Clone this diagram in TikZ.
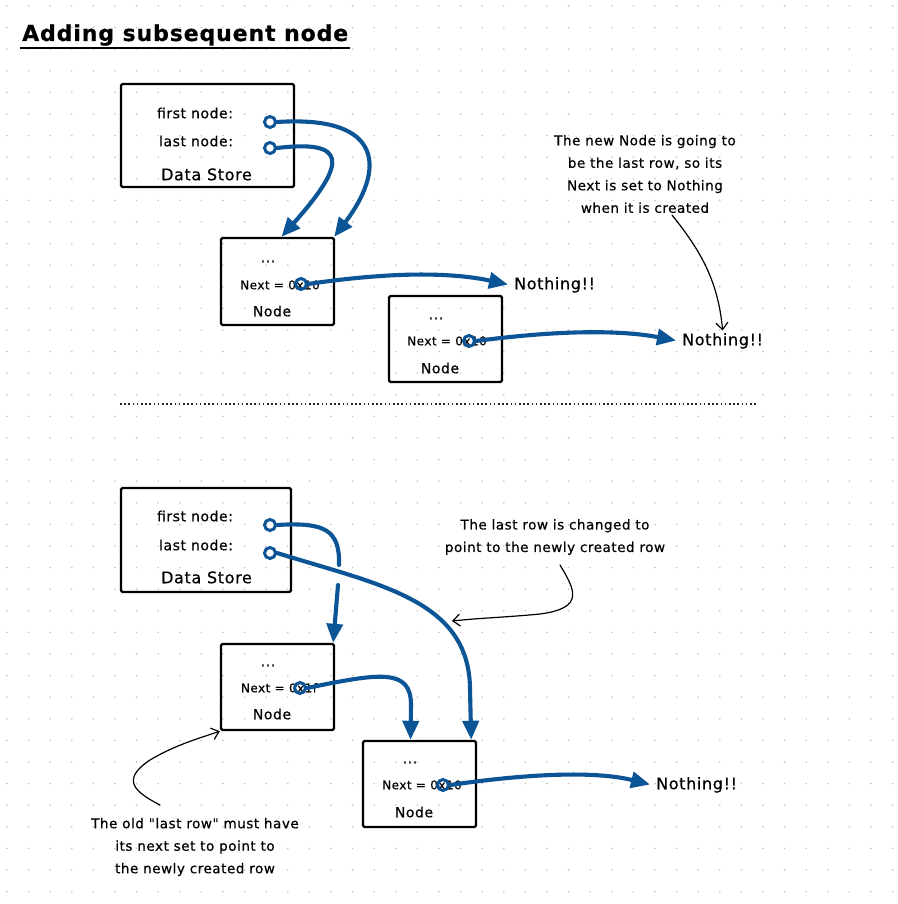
\documentclass[tikz,border=0pt]{standalone}
\usepackage{fontspec}
\setmainfont{DejaVu Sans}[LetterSpace=4, Ligatures=TeXOff, FakeBold=0.5]
\usetikzlibrary{arrows.meta}
\definecolor{arrowblue}{RGB}{11,84,150}
\definecolor{dotgray}{RGB}{195,195,195}
\begin{document}
\begin{tikzpicture}[x=1pt,y=-1pt,
  sbox/.style={draw=black, line width=2.4pt, rounded corners=1.5pt, inner sep=0pt},
  txt/.style={inner sep=0pt, text height=0.75em, text depth=0.2em, yshift=-3.5pt},
  small/.style={txt, font=\fontsize{14}{16}\selectfont},
  tiny/.style={txt, font=\fontsize{12}{14}\selectfont},
  big/.style={txt, font=\fontsize{16}{18}\selectfont},
  port/.style={circle, draw=arrowblue, line width=3pt, minimum size=11pt, inner sep=0pt},
  bluepath/.style={draw=arrowblue, line width=4.1pt, line cap=round},
  link/.style={bluepath, -{Triangle[length=19pt,width=16pt]}},
  note/.style={draw=black, line width=1.2pt, line cap=round, -{Straight Barb[length=7pt,width=12pt]}},
  annot/.style={align=center, inner sep=0pt, font=\fontsize{13.5}{22.5}\selectfont}]

\useasboundingbox[fill=white] (0,0) rectangle (897,904);
\foreach \i in {0,...,41} {
  \foreach \j in {0,...,41} {
    \fill[dotgray] (7+21.6*\i, 6+21.6*\j) circle (0.9pt);
  }
}

% title
\node[anchor=base west, inner sep=0pt, font=\fontsize{22}{24}\selectfont\bfseries] (title) at (22,41) {Adding subsequent node};
\draw[line width=2.4pt] ([xshift=-2pt,yshift=-7pt]title.base west) -- ([xshift=2pt,yshift=-7pt]title.base east);

% ---------- top half ----------
\node[sbox, minimum width=173pt, minimum height=103pt] (ds1) at (207.5,135.5) {};
\node[small] (ds1first) at (195,112) {first node:};
\node[small] (ds1last) at (196,140) {last node:};
\node[big] (ds1name) at (206.5,174) {Data Store};
\node[port] (p1a) at (270,122) {};
\node[port] (p1b) at (270,148) {};

\node[sbox, minimum width=113pt, minimum height=87pt] (n1) at (277.5,281.5) {};
\node[small] (n1dots) at (268,256) {...};
\node[tiny] (n1next) at (280,283) {Next = 0x10};
\node[small] (n1name) at (272,310) {Node};
\node[port] (n1p) at (301,284) {};

\node[sbox, minimum width=113pt, minimum height=86pt] (n2) at (445.5,339) {};
\node[small] (n2dots) at (436,313) {...};
\node[tiny] (n2next) at (447,339) {Next = 0x10};
\node[small] (n2name) at (440,367) {Node};
\node[port] (n2p) at (469,341) {};

\node[big, anchor=west] (nothing1) at (514,283) {Nothing!!};
\node[big, anchor=west] (nothing2) at (682,339) {Nothing!!};

\draw[link] (p1a.east) .. controls (385,115) and (385,170) .. ([xshift=-1pt]n1.north east);
\draw[link] (p1b.east) .. controls (345,140) and (350,160) .. ([xshift=4pt]n1.north);
\draw[link] (n1p.east) .. controls (390,272) and (450,272) .. ([xshift=-6pt,yshift=2pt]nothing1.west);
\draw[link] (n2p.east) .. controls (560,330) and (620,330) .. ([xshift=-6pt,yshift=2pt]nothing2.west);

\node[annot] (anno1) at (645,174) {The new Node is going to\\be the last row, so its\\Next is set to Nothing\\when it is created};
\coordinate (a1s) at (672,215);
\draw[note] (a1s) .. controls (700,250) and (718,280) .. ([yshift=7pt]nothing2.north);

% separator
\coordinate (sepL) at (120,404);
\coordinate (sepR) at (757,404);
\draw[line width=1.4pt, black!85, dash pattern=on 1.6pt off 2.6pt] (sepL) -- (sepR);

% ---------- bottom half ----------
\node[sbox, minimum width=170pt, minimum height=104pt] (ds2) at (206,540) {};
\node[small] (ds2first) at (195,515) {first node:};
\node[small] (ds2last) at (196,544) {last node:};
\node[big] (ds2name) at (206.5,577) {Data Store};
\node[port] (p2a) at (270,525) {};
\node[port] (p2b) at (270,553) {};

\node[sbox, minimum width=113pt, minimum height=86pt] (n3) at (277.5,687) {};
\node[small] (n3dots) at (268,660) {...};
\node[tiny] (n3next) at (279,686) {Next = 0x1f};
\node[small] (n3name) at (272,713) {Node};
\node[port] (n3p) at (300,688) {};

\node[sbox, minimum width=113pt, minimum height=86pt] (n4) at (419.5,784) {};
\node[small] (n4dots) at (410,757) {...};
\node[tiny] (n4next) at (422,783) {Next = 0x10};
\node[small] (n4name) at (414,811) {Node};
\node[port] (n4p) at (443,785) {};

\node[big, anchor=west] (nothing3) at (656,783) {Nothing!!};

\coordinate (g1) at (339,565);
\coordinate (g2) at (338,585);
\draw[bluepath] (p2a.east) .. controls (325,522) and (340,530) .. (g1);
\draw[link] (g2) -- ([xshift=-2pt]n3.north east);
\draw[link] (p2b.east) .. controls (380,585) and (470,600) .. (470,690) -- ([xshift=-6pt]n4.north east);
\draw[link] (n3p.east) .. controls (380,673) and (411,668) .. (411,705) -- ([xshift=-9pt]n4.north);
\draw[link] (n4p.east) .. controls (540,772) and (600,772) .. ([xshift=-6pt,yshift=2pt]nothing3.west);

\node[annot] (anno2) at (555,537) {The last row is changed to\\point to the newly created row};
\coordinate (a2s) at (560,565);
\coordinate (a2e) at (452,621);
\draw[note] (a2s) .. controls (575,590) and (585,608) .. (540,614) .. controls (510,617) and (480,618) .. (a2e);

\node[annot] (anno3) at (195,847) {The old "last row" must have\\its next set to point to\\the newly created row};
\coordinate (a3s) at (160,805);
\draw[note] (a3s) .. controls (135,792) and (120,780) .. (150,760) .. controls (175,745) and (200,738) .. (n3.south west);
\end{tikzpicture}
\end{document}
